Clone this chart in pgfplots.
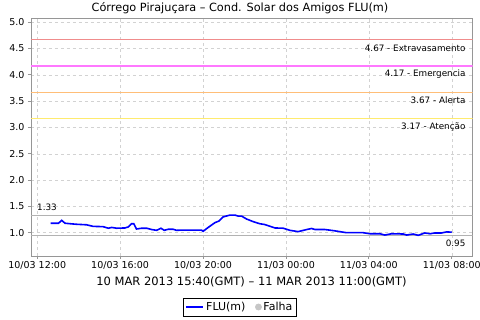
\documentclass[border=0pt]{standalone}
\usepackage{fontspec}
\setmainfont{DejaVu Sans}
\usepackage{pgfplots}
\pgfplotsset{compat=1.18}
\definecolor{thrRed}{RGB}{240,140,140}
\definecolor{thrMag}{RGB}{255,120,255}
\definecolor{thrOra}{RGB}{255,190,120}
\definecolor{thrYel}{RGB}{255,235,110}
\definecolor{gridc}{RGB}{210,210,210}
\definecolor{axc}{RGB}{150,150,150}
\begin{document}
\begin{tikzpicture}[x=1pt,y=1pt]
\path[use as bounding box, fill=white] (0,0) rectangle (480,320);
\node[font=\fontsize{11.3}{13}\selectfont] at (240,311.7) {Córrego Pirajuçara – Cond. Solar dos Amigos FLU(m)};
\node[font=\fontsize{11.5}{13}\selectfont] at (251.5,38.3) {10 MAR 2013 15:40(GMT) – 11 MAR 2013 11:00(GMT)};
\begin{axis}[
  at={(31pt,64pt)}, anchor=south west,
  scale only axis, width=441.7pt, height=237.7pt,
  xmin=11.70, xmax=33.01, ymin=0.557, ymax=5.076,
  xtick={12,16,20,24,28,32},
  xticklabels={10/03 12:00,10/03 16:00,10/03 20:00,11/03 00:00,11/03 04:00,11/03 08:00},
  ytick={1,1.5,2,2.5,3,3.5,4,4.5,5},
  yticklabel style={/pgf/number format/fixed,/pgf/number format/fixed zerofill,/pgf/number format/precision=1},
  /pgf/number format/assume math mode=true,
  tick label style={font=\fontsize{9.5}{11}\selectfont},
  xticklabel style={yshift=1pt},
  tick align=outside, major tick length=3pt,
  tick style={axc, line width=0.8pt},
  axis line style={axc, line width=0.8pt},
  xtick pos=bottom, ytick pos=left,
  grid=major, major grid style={gridc, dashed, line width=0.5pt},
  legend columns=2,
  legend style={at={(axis description cs:0.473,-0.2146)}, anchor=center, draw=black, line width=0.8pt, font=\fontsize{11}{13}\selectfont, inner sep=2pt, /tikz/column 2/.style={column sep=8pt}},
  legend cell align=left,
]
\addplot[draw=thrRed, line width=1.3pt, forget plot] coordinates {(11.70,4.67) (33.01,4.67)};
\addplot[draw=thrMag, line width=1.3pt, forget plot] coordinates {(11.70,4.17) (33.01,4.17)};
\addplot[draw=thrOra, line width=1.1pt, forget plot] coordinates {(11.70,3.67) (33.01,3.67)};
\addplot[draw=thrYel, line width=1.1pt, forget plot] coordinates {(11.70,3.17) (33.01,3.17)};
\addplot[gridc!85!black, line width=0.8pt, forget plot] coordinates {(11.70,1.33) (33.01,1.33)};
\addplot[gridc!85!black, line width=0.8pt, forget plot] coordinates {(11.70,0.95) (33.01,0.95)};
\addplot[blue, line width=1.6pt] coordinates {
(12.65,1.18) (12.95,1.18) (13.03,1.18) (13.18,1.235) (13.34,1.18) (13.6,1.17) (13.9,1.16)
(14.38,1.15) (14.7,1.12) (15.18,1.115) (15.3,1.10) (15.43,1.085) (15.59,1.10) (15.83,1.085)
(16.23,1.09) (16.4,1.11) (16.55,1.17) (16.66,1.17) (16.79,1.07) (17.04,1.085) (17.28,1.085)
(17.52,1.06) (17.76,1.045) (17.97,1.085) (18.13,1.045) (18.32,1.065) (18.56,1.065) (18.72,1.045)
(19.0,1.05) (19.5,1.05) (19.93,1.05) (20.0,1.025) (20.25,1.10) (20.57,1.19) (20.76,1.22)
(20.97,1.30) (21.30,1.335) (21.54,1.335) (21.70,1.315) (21.86,1.315) (22.10,1.26) (22.42,1.21)
(22.74,1.17) (22.98,1.155) (23.47,1.09) (23.87,1.085) (24.19,1.045) (24.59,1.02) (25.0,1.06)
(25.24,1.08) (25.40,1.06) (25.88,1.06) (26.28,1.04) (26.92,1.0) (27.72,1.0) (28.05,0.98)
(28.53,0.98) (28.77,0.955) (29.1,0.98) (29.66,0.975) (29.82,0.955) (30.14,0.975) (30.38,0.95)
(30.7,0.995) (30.95,0.98) (31.19,0.995) (31.51,0.995) (31.75,1.015) (32.0,1.01)};
\addlegendentry{FLU(m)}
\addlegendimage{only marks, mark=*, mark size=3pt, color=gray!45}
\addlegendentry{Falha}
\node[anchor=east, font=\fontsize{8.8}{10}\selectfont] at (axis cs:32.83,4.51) {4.67 - Extravasamento};
\node[anchor=east, font=\fontsize{8.8}{10}\selectfont] at (axis cs:32.83,4.01) {4.17 - Emergencia};
\node[anchor=east, font=\fontsize{8.8}{10}\selectfont] at (axis cs:32.83,3.51) {3.67 - Alerta};
\node[anchor=east, font=\fontsize{8.8}{10}\selectfont] at (axis cs:32.83,3.01) {3.17 - Atenção};
\node[anchor=west, font=\fontsize{8.8}{10}\selectfont] at (axis cs:11.83,1.475) {1.33};
\node[anchor=east, font=\fontsize{8.8}{10}\selectfont] at (axis cs:32.83,0.798) {0.95};
\end{axis}
\end{tikzpicture}
\end{document}
